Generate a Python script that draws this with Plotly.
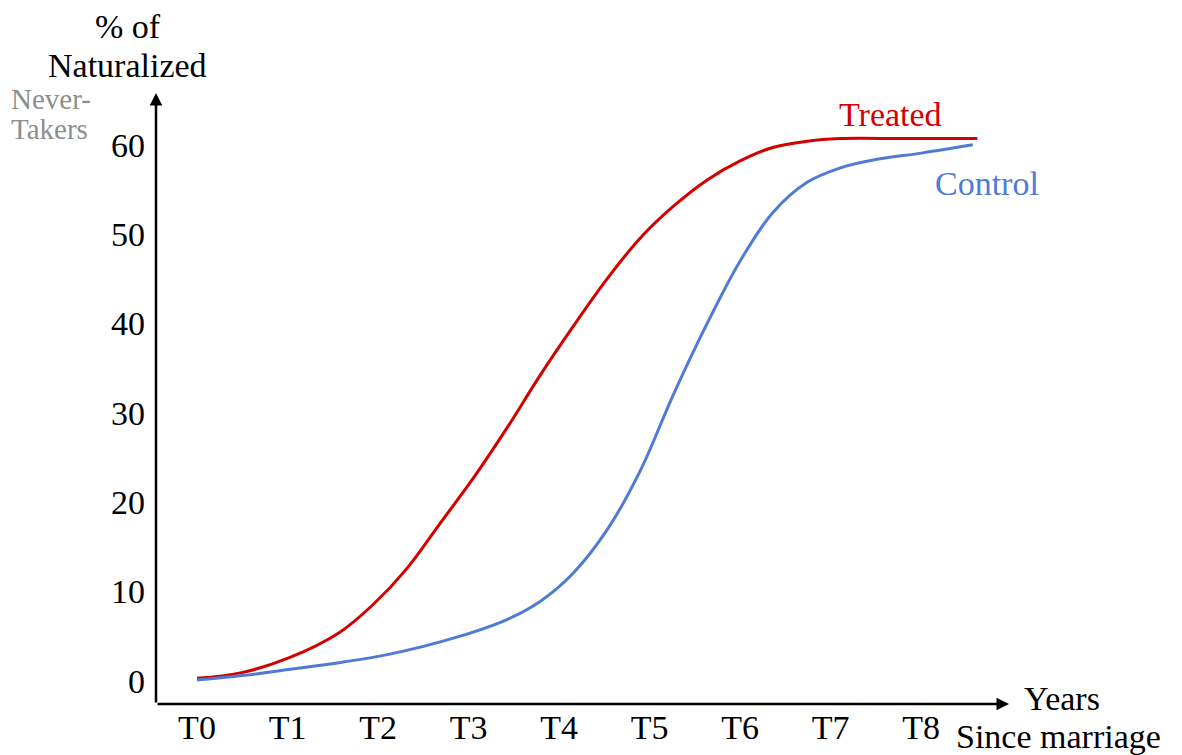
import plotly.graph_objects as go

# ---- data ----
x_treated = [0, 0.48, 1.02, 1.57, 1.94, 2.32, 2.69, 3.06, 3.43, 3.79, 4.15, 4.53, 4.90, 5.26, 5.64, 6.0, 6.36, 6.74, 7.1, 7.8, 8.62]
y_treated = [0.3, 0.9, 2.6, 5.4, 8.5, 12.6, 17.7, 22.8, 28.4, 34.2, 39.6, 45.0, 49.6, 53.1, 56.1, 58.2, 59.7, 60.4, 60.7, 60.7, 60.7]

x_control = [0, 0.5, 1.03, 1.6, 2.13, 2.87, 3.43, 3.79, 4.15, 4.53, 4.9, 5.26, 5.64, 6.0, 6.36, 6.74, 7.1, 7.47, 8.02, 8.57]
y_control = [0.1, 0.6, 1.3, 2.1, 3.0, 4.9, 6.9, 8.9, 12.0, 16.9, 23.6, 32.0, 40.1, 47.0, 52.4, 55.8, 57.4, 58.3, 59.1, 60.0]

x_tick_vals = [0, 1, 2, 3, 4, 5, 6, 7, 8]
x_tick_text = ["T0", "T1", "T2", "T3", "T4", "T5", "T6", "T7", "T8"]
y_tick_vals = [0, 10, 20, 30, 40, 50, 60]

# ---- layout geometry (reference pixels; page body adds an 8px offset) ----
OFF = 8
W, H = 1182 - OFF, 755 - OFF
AX_LEFT, AX_RIGHT, AX_TOP, AX_BOTTOM = 156, 1009, 93, 704   # reference pixels
L = AX_LEFT - OFF
T = AX_TOP - OFF
R = W - (AX_RIGHT - OFF)
B = H - (AX_BOTTOM - OFF)
X_RANGE = [-0.453, 8.97]
Y_RANGE = [-2.58, 65.8]
FONT = "Liberation Serif"
FS = 34
RED = "#d40000"
BLUE = "#4f7bd6"
GREY = "#8c8f8c"

pw, ph = W - L - R, H - T - B


def px(xp):
    return (xp - OFF - L) / pw


def py(yp):
    return (H - B - (yp - OFF)) / ph


fig = go.Figure()
fig.add_trace(go.Scatter(x=x_treated, y=y_treated, mode="lines",
                         line=dict(color=RED, width=3, shape="spline", smoothing=1.0),
                         name="Treated", hoverinfo="skip"))
fig.add_trace(go.Scatter(x=x_control, y=y_control, mode="lines",
                         line=dict(color=BLUE, width=3, shape="spline", smoothing=1.0),
                         name="Control", hoverinfo="skip"))

annotations = []
# axes with arrowheads
annotations.append(dict(x=X_RANGE[1], y=Y_RANGE[0], ax=X_RANGE[0], ay=Y_RANGE[0],
                        xref="x", yref="y", axref="x", ayref="y", text="",
                        showarrow=True, arrowhead=2, arrowsize=1.0, arrowwidth=2.5,
                        arrowcolor="black"))
annotations.append(dict(x=X_RANGE[0], y=Y_RANGE[1], ax=X_RANGE[0], ay=Y_RANGE[0],
                        xref="x", yref="y", axref="x", ayref="y", text="",
                        showarrow=True, arrowhead=2, arrowsize=1.0, arrowwidth=2.5,
                        arrowcolor="black"))


def label(text, xp, yp, color="black", size=FS, xanchor="center"):
    annotations.append(dict(text=text, x=px(xp), y=py(yp), xref="paper", yref="paper",
                            showarrow=False, xanchor=xanchor, yanchor="middle",
                            borderpad=0,
                            font=dict(family=FONT, size=size, color=color)))


label("% of", 128, 26)
label("Naturalized", 127, 65)
label("Never-", 10, 99, color=GREY, size=29, xanchor="left")
label("Takers", 10, 129, color=GREY, size=29, xanchor="left")
label("Treated", 890, 114, color=RED)
label("Control", 987, 183, color=BLUE)
label("Years", 1023, 698, xanchor="left")
label("Since marriage", 955, 736, xanchor="left")

fig.update_layout(
    width=W, height=H,
    margin=dict(l=L, r=R, t=T, b=B, pad=0, autoexpand=False),
    paper_bgcolor="white", plot_bgcolor="white",
    showlegend=False,
    annotations=annotations,
    font=dict(family=FONT, size=FS, color="black"),
    xaxis=dict(range=X_RANGE, showgrid=False, zeroline=False, showline=False,
               tickmode="array", tickvals=x_tick_vals, ticktext=x_tick_text,
               ticks="", ticklabelstandoff=0, fixedrange=True, automargin=False,
               tickfont=dict(family=FONT, size=FS, color="black")),
    yaxis=dict(range=Y_RANGE, showgrid=False, zeroline=False, showline=False,
               tickmode="array", tickvals=y_tick_vals,
               ticks="", ticklabelstandoff=10, fixedrange=True, automargin=False,
               tickfont=dict(family=FONT, size=FS, color="black")),
)

fig.write_html("out.html", config={"displayModeBar": False})
